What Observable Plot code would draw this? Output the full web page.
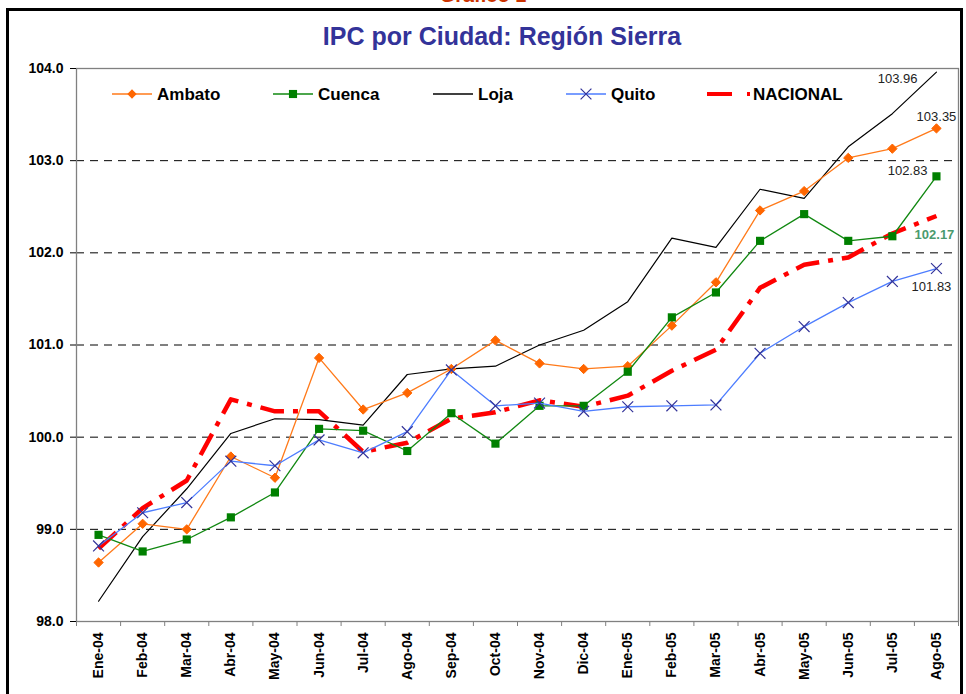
<!DOCTYPE html>
<html><head><meta charset="utf-8">
<script src="https://cdn.jsdelivr.net/npm/d3@7"></script>
<script src="https://cdn.jsdelivr.net/npm/@observablehq/plot@0.6"></script>
<style>
body{margin:0;background:#fff;font-family:"Liberation Sans",Arial,sans-serif;}
#wrap{position:relative;width:966px;height:694px;overflow:hidden;background:#fff;}
#chart{position:absolute;left:0;top:0;}
#sup{position:absolute;left:0;width:966px;top:-16px;text-align:center;color:#cc3300;font-weight:bold;font-size:20px;line-height:22px;}
#frame{position:absolute;left:6px;top:8px;width:957px;height:720px;border:3px solid #000;box-sizing:border-box;}
#title{position:absolute;left:0;width:1004px;top:22px;text-align:center;color:#333399;font-weight:bold;font-size:25px;}
#legend{position:absolute;left:0;top:0;}
</style></head><body>
<div id="wrap">
  <div id="sup">Gráfico 1</div>
  <div id="frame"></div>
  <div id="chart"></div>
  <div id="title">IPC por Ciudad: Región Sierra</div>
  <div id="legend"></div>
</div>
<script>
const months = ["Ene-04","Feb-04","Mar-04","Abr-04","May-04","Jun-04","Jul-04","Ago-04","Sep-04","Oct-04","Nov-04","Dic-04","Ene-05","Feb-05","Mar-05","Abr-05","May-05","Jun-05","Jul-05","Ago-05"];
const ambato   = [98.64, 99.06, 99.00, 99.79, 99.56, 100.86, 100.30, 100.48, 100.74, 101.05, 100.80, 100.74, 100.77, 101.21, 101.68, 102.46, 102.67, 103.03, 103.13, 103.35];
const cuenca   = [98.94, 98.76, 98.89, 99.13, 99.40, 100.09, 100.07, 99.85, 100.26, 99.93, 100.34, 100.34, 100.71, 101.30, 101.57, 102.13, 102.42, 102.13, 102.18, 102.83];
const loja     = [98.22, 98.92, 99.44, 100.04, 100.20, 100.19, 100.13, 100.68, 100.74, 100.77, 101.00, 101.16, 101.47, 102.16, 102.06, 102.69, 102.59, 103.15, 103.51, 103.96];
const quito    = [98.82, 99.18, 99.29, 99.74, 99.69, 99.97, 99.83, 100.06, 100.73, 100.34, 100.37, 100.28, 100.33, 100.34, 100.35, 100.91, 101.20, 101.46, 101.69, 101.83];
const nacional = [98.79, 99.23, 99.53, 100.41, 100.28, 100.28, 99.84, 99.94, 100.20, 100.27, 100.40, 100.33, 100.45, 100.72, 100.95, 101.62, 101.87, 101.95, 102.21, 102.40];
const yTicks = [98, 99, 100, 101, 102, 103, 104];
const gridTicks = [99, 100, 101, 102, 103];
const endLabels = [
  {text:"103.96", value:103.96, color:"#222", weight:"normal", dx:-19, dy:7, anchor:"end"},
  {text:"103.35", value:103.35, color:"#222", weight:"normal", dx:0, dy:-12, anchor:"middle"},
  {text:"102.83", value:102.83, color:"#222", weight:"normal", dx:-9, dy:-6, anchor:"end"},
  {text:"102.17", value:102.17, color:"#4a9a6e", weight:"bold", dx:-2, dy:-2, anchor:"middle"},
  {text:"101.83", value:101.83, color:"#222", weight:"normal", dx:-5, dy:18, anchor:"middle"}
];

const idx = months.map((m, i) => i);
const bounds = d3.range(months.length + 1).map(i => i - 0.5);
const last = months.length - 1;
const X = (d, i) => i;
const Y = d => d;

const plot = Plot.plot({
  width: 966, height: 694,
  marginLeft: 76, marginRight: 8, marginTop: 68, marginBottom: 73,
  style: {fontFamily: '"Liberation Sans", Arial, sans-serif', background: "transparent", color: "#000"},
  x: {domain: [-0.5, months.length - 0.5]},
  y: {domain: [98, 104]},
  marks: [
    Plot.ruleY(gridTicks, {stroke: "#000", strokeWidth: 1, strokeDasharray: "8,6"}),
    Plot.frame({stroke: "#808080", strokeWidth: 1.3}),
    Plot.axisY(yTicks, {tickSize: 6, tickPadding: 7, tickFormat: d => d.toFixed(1), fontSize: 14, fontWeight: "bold", stroke: "#000", fill: "#000", label: null}),
    Plot.axisX(idx, {tickSize: 0, tickPadding: 11, tickRotate: -90, tickFormat: i => months[i], fontSize: 14, fontWeight: "bold", fill: "#000", label: null}),
    Plot.axisX(bounds, {tickSize: 5, tickFormat: () => "", stroke: "#808080", label: null}),
    Plot.line(nacional, {x: X, y: Y, stroke: "#ff0000", strokeWidth: 4.5, strokeDasharray: "24,9,5,9", strokeLinecap: "butt"}),
    Plot.line(loja, {x: X, y: Y, stroke: "#000", strokeWidth: 1.2}),
    Plot.line(ambato, {x: X, y: Y, stroke: "#ff7a1a", strokeWidth: 1.3}),
    Plot.dot(ambato, {x: X, y: Y, symbol: "diamond2", r: 4.2, fill: "#ff6600", stroke: "#ff6600", strokeWidth: 1}),
    Plot.line(cuenca, {x: X, y: Y, stroke: "#118811", strokeWidth: 1.3}),
    Plot.dot(cuenca, {x: X, y: Y, symbol: "square", r: 4.6, fill: "#008000", stroke: "none"}),
    Plot.line(quito, {x: X, y: Y, stroke: "#4d7dff", strokeWidth: 1.3}),
    Plot.dot(quito, {x: X, y: Y, symbol: "times", r: 5, stroke: "#333399", strokeWidth: 1.2}),
    ...endLabels.map(l => Plot.text([l], {x: () => last, y: "value", text: "text", fill: l.color, fontWeight: l.weight,
      fontSize: 13, dx: l.dx, dy: l.dy, textAnchor: l.anchor}))
  ]
});
document.getElementById("chart").appendChild(plot);

// legend inside plot area
const legendItems = [
  {name: "Ambato", x: 112, line: "#ff7a1a", sym: "diamond"},
  {name: "Cuenca", x: 273, line: "#118811", sym: "square"},
  {name: "Loja", x: 433, line: "#000", sym: null},
  {name: "Quito", x: 566, line: "#4d7dff", sym: "times"},
  {name: "NACIONAL", x: 707, line: "#ff0000", sym: "nacional"}
];
const svg = d3.select("#legend").append("svg").attr("width", 966).attr("height", 120)
  .style("font-family", '"Liberation Sans", Arial, sans-serif');
const ly = 94;
legendItems.forEach(it => {
  const g = svg.append("g");
  if (it.sym === "nacional") {
    g.append("line").attr("x1", it.x).attr("x2", it.x + 25).attr("y1", ly).attr("y2", ly).attr("stroke", "#ff0000").attr("stroke-width", 4);
    g.append("line").attr("x1", it.x + 40).attr("x2", it.x + 43).attr("y1", ly).attr("y2", ly).attr("stroke", "#ff0000").attr("stroke-width", 4);
    g.append("text").attr("x", it.x + 46).attr("y", ly + 6).text(it.name).attr("font-weight", "bold").attr("font-size", 17);
    return;
  }
  g.append("line").attr("x1", it.x).attr("x2", it.x + 40).attr("y1", ly).attr("y2", ly).attr("stroke", it.line).attr("stroke-width", 1.3);
  const cx = it.x + 20;
  if (it.sym === "diamond") g.append("path").attr("d", d3.symbol(d3.symbolDiamond2, 55)()).attr("transform", `translate(${cx},${ly})`).attr("fill", "#ff6600");
  if (it.sym === "square") g.append("path").attr("d", d3.symbol(d3.symbolSquare, 66)()).attr("transform", `translate(${cx},${ly})`).attr("fill", "#008000");
  if (it.sym === "times") g.append("path").attr("d", d3.symbol(d3.symbolTimes, 78)()).attr("transform", `translate(${cx},${ly})`).attr("fill", "none").attr("stroke", "#333399").attr("stroke-width", 1.2);
  g.append("text").attr("x", it.x + 45).attr("y", ly + 6).text(it.name).attr("font-weight", "bold").attr("font-size", 17);
});
</script>
</body></html>
